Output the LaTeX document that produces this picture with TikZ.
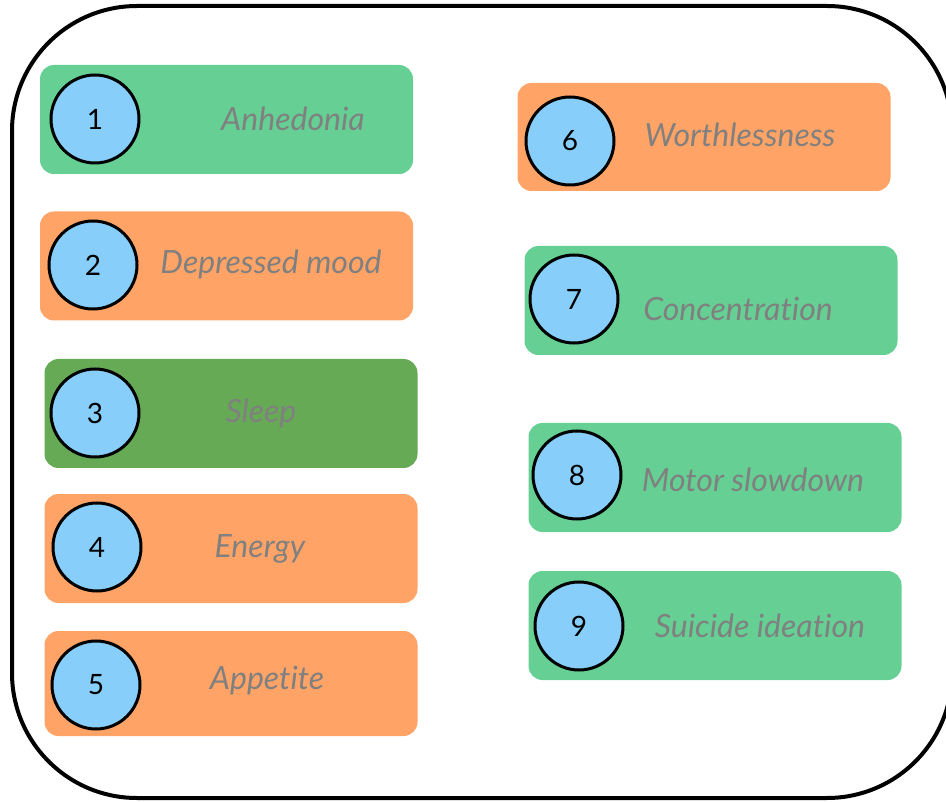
\documentclass[tikz,border=0pt]{standalone}
\usepackage{fontspec}
\setmainfont[Ligatures={TeX,NoCommon}]{Lato}
\usepackage{xcolor}
\usepackage{tikz}
\definecolor{itemgreen}{RGB}{102, 207, 148}
\definecolor{itemorange}{RGB}{255, 164, 102}
\definecolor{itemdarkgreen}{RGB}{102, 170, 85}
\definecolor{numberblue}{RGB}{135, 206, 250}
\definecolor{labelgray}{RGB}{128, 128, 128}
\usetikzlibrary{positioning, calc}

\begin{document}
\begin{tikzpicture}[
    x=1pt, y=-1pt,
    item/.style={rectangle, rounded corners=14pt, draw=none, minimum width=373pt, minimum height=109pt,
                 inner sep=0pt},
    number/.style={circle, draw=black, line width=3pt, fill=numberblue, minimum size=88pt,
                   inner sep=0pt, font=\fontsize{28}{30}\selectfont},
    label/.style={text=labelgray, font=\fontsize{32}{35}\selectfont\itshape, inner sep=0pt, anchor=center}
]
    \useasboundingbox (0,0) rectangle (946,802);

    % Outer frame
    \begin{scope}
    \clip (0,0) rectangle (946,802);
    \draw[line width=4pt, rounded corners=125pt] (12,6) rectangle (952,798);
    \end{scope}

    % Left column
    \node[item, fill=itemgreen] (anhedonia) at (226.5,119.5) {};
    \node[number] (n1) at (95,119) {1};
    \node[label] (l1) at (293,119) {Anhedonia};

    \node[item, fill=itemorange] (mood) at (226.5,266) {};
    \node[number] (n2) at (93,265) {2};
    \node[label] (l2) at (271,264) {Depressed mood};

    \node[item, fill=itemdarkgreen] (sleep) at (231,413.5) {};
    \node[number] (n3) at (95,413) {3};
    \node[label] (l3) at (261,413) {Sleep};

    \node[item, fill=itemorange] (energy) at (231,548.5) {};
    \node[number] (n4) at (97,547) {4};
    \node[label] (l4) at (260,549) {Energy};

    \node[item, fill=itemorange, minimum height=105pt] (appetite) at (231,683.5) {};
    \node[number] (n5) at (96,685) {5};
    \node[label] (l5) at (267,681) {Appetite};

    % Right column
    \node[item, fill=itemorange, minimum height=108pt] (worth) at (704,137) {};
    \node[number] (n6) at (570,141) {6};
    \node[label] (l6) at (740,135) {Worthlessness};

    \node[item, fill=itemgreen] (concentration) at (711,300.5) {};
    \node[number] (n7) at (574,299) {7};
    \node[label] (l7) at (738,309) {Concentration};

    \node[item, fill=itemgreen] (motor) at (715,477.5) {};
    \node[number] (n8) at (577,475) {8};
    \node[label] (l8) at (753,480) {Motor slowdown};

    \node[item, fill=itemgreen] (suicide) at (715,625.5) {};
    \node[number] (n9) at (579,626) {9};
    \node[label] (l9) at (760,626) {Suicide ideation};
\end{tikzpicture}
\end{document}
